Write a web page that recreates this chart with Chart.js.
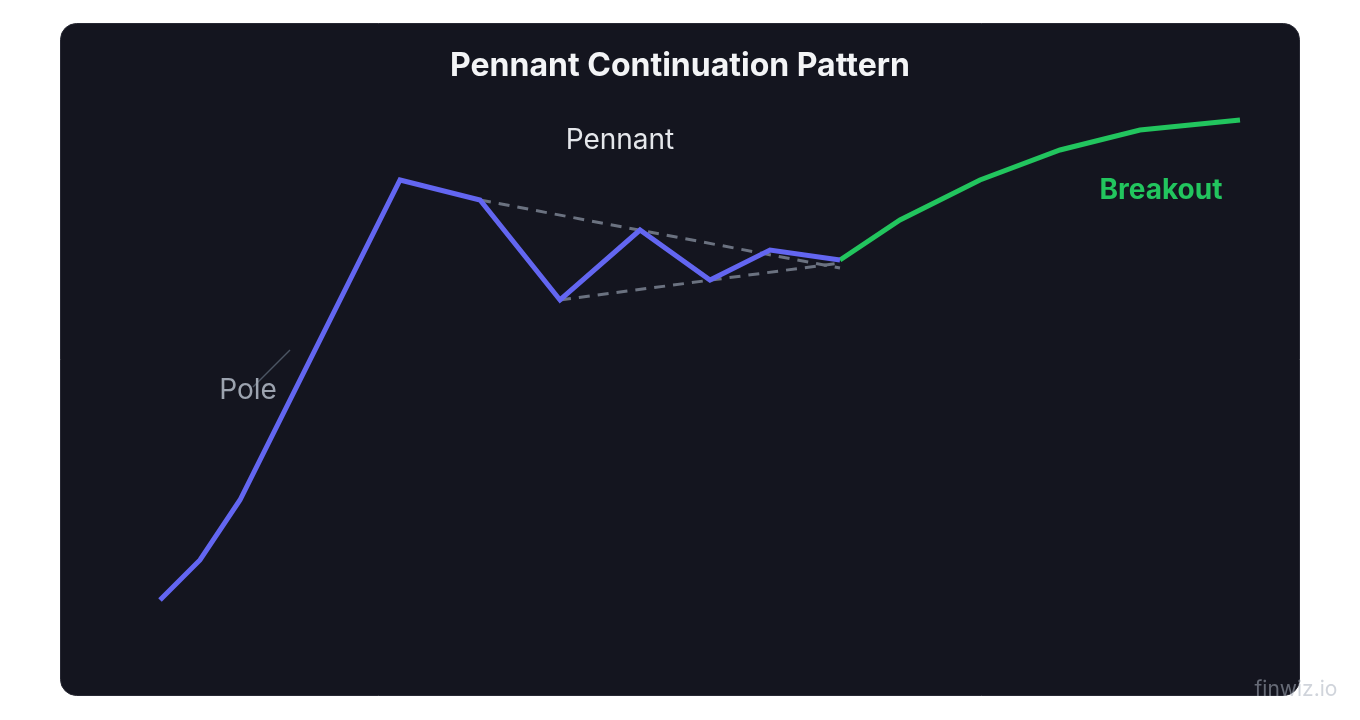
<!DOCTYPE html>
<html>
<head>
<meta charset="utf-8">
<script src="https://cdn.jsdelivr.net/npm/chart.js@4.4.0/dist/chart.umd.min.js"></script>
<style>
  html, body { margin: 0; padding: 0; background: #ffffff; }
  #wrap { width: 1360px; height: 720px; }
</style>
</head>
<body>
<div id="wrap"><canvas id="c" width="1360" height="720"></canvas></div>
<script>
// ---- Data (days vs price) ----
const poleDays      = [0, 2, 4, 12, 16, 20, 24, 27.5, 30.5, 34];
const poleValues    = [10, 14, 20, 52, 50, 40, 47, 42, 45, 44];
const breakoutDays  = [34, 37, 41, 45, 49, 54];
const breakoutValues= [44, 48, 52, 55, 57, 58];
const upperTrendDays   = [16, 34];
const upperTrendValues = [50, 43.2];
const lowerTrendDays   = [20, 34];
const lowerTrendValues = [40, 43.7];
const pointerDays   = [4.65, 6.5];
const pointerValues = [31.3, 35];

const titleText = 'Pennant Continuation Pattern';
const labels = [
  { text: 'Pennant',  day: 23,    value: 56, color: '#e5e7eb', weight: '400' },
  { text: 'Pole',     day: 4.4,   value: 31, color: '#9ca3af', weight: '400' },
  { text: 'Breakout', day: 50.05, value: 51, color: '#22c55e', weight: '700' }
];

function pts(xs, ys) { return xs.map((x, i) => ({ x: x, y: ys[i] })); }

const FONT = 'Inter, "Noto Sans", "DejaVu Sans", sans-serif';

const decor = {
  id: 'decor',
  beforeDraw(chart) {
    const ctx = chart.ctx;
    ctx.save();
    ctx.fillStyle = '#ffffff';
    ctx.fillRect(0, 0, chart.width, chart.height);
    ctx.beginPath();
    ctx.roundRect(60.5, 23.5, 1239, 672, 16);
    ctx.fillStyle = '#14151f';
    ctx.fill();
    ctx.strokeStyle = '#272833';
    ctx.lineWidth = 1;
    ctx.stroke();
    ctx.restore();
  },
  afterDatasetsDraw(chart) {
    const ctx = chart.ctx;
    const xs = chart.scales.x, ys = chart.scales.y;
    ctx.save();
    ctx.textAlign = 'center';
    ctx.textBaseline = 'middle';
    ctx.fillStyle = '#f3f4f6';
    ctx.font = '700 32px ' + FONT;
    ctx.fillText(titleText, 680, 66);
    labels.forEach(l => {
      ctx.fillStyle = l.color;
      ctx.font = l.weight + ' 28px ' + FONT;
      ctx.fillText(l.text, xs.getPixelForValue(l.day), ys.getPixelForValue(l.value) + 1);
    });
    ctx.fillStyle = 'rgba(170,176,190,0.55)';
    ctx.font = '400 21px ' + FONT;
    ctx.fillText('finwiz.io', 1296, 690);
    ctx.restore();
  }
};

new Chart(document.getElementById('c'), {
  type: 'line',
  data: {
    datasets: [
      { data: pts(poleDays, poleValues), borderColor: '#6366f1', borderWidth: 5, pointRadius: 0, tension: 0, fill: false },
      { data: pts(breakoutDays, breakoutValues), borderColor: '#22c55e', borderWidth: 5, pointRadius: 0, tension: 0, fill: false },
      { data: pts(upperTrendDays, upperTrendValues), borderColor: '#6b7280', borderWidth: 3, borderDash: [11, 8], pointRadius: 0, fill: false },
      { data: pts(lowerTrendDays, lowerTrendValues), borderColor: '#6b7280', borderWidth: 3, borderDash: [11, 8], pointRadius: 0, fill: false },
      { data: pts(pointerDays, pointerValues), borderColor: '#4b5563', borderWidth: 1.5, pointRadius: 0, fill: false }
    ]
  },
  options: {
    responsive: false,
    animation: false,
    layout: { padding: { left: 0, right: 0, top: 0, bottom: 20 } },
    plugins: { legend: { display: false }, tooltip: { enabled: false }, title: { display: false } },
    scales: {
      x: { type: 'linear', min: -8, max: 60, display: false },
      y: { type: 'linear', min: 0, max: 70, display: false }
    },
    events: []
  },
  plugins: [decor]
});
</script>
</body>
</html>
